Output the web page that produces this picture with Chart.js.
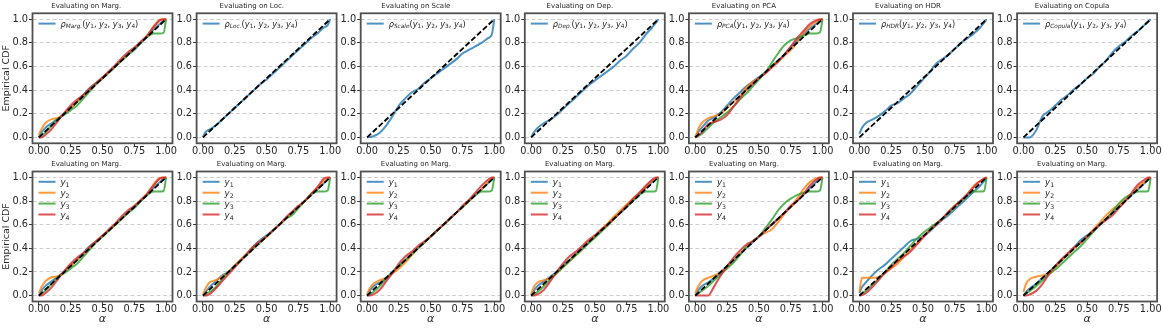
<!DOCTYPE html>
<html>
<head>
<meta charset="utf-8">
<script src="https://cdn.jsdelivr.net/npm/chart.js@4.4.1/dist/chart.umd.min.js"></script>
<style>
html, body { margin: 0; padding: 0; background: #fff; }
#fig { position: relative; width: 1163px; height: 329px; overflow: hidden; }
#fig canvas { position: absolute; }
</style>
</head>
<body>
<div id="fig"></div>
<script>
Chart.defaults.font.family = '"DejaVu Sans", sans-serif';
Chart.defaults.color = '#262626';

const alpha = [0, 0.02, 0.05, 0.1, 0.15, 0.2, 0.25, 0.3, 0.35, 0.4, 0.45, 0.5, 0.55, 0.6, 0.65, 0.7, 0.75, 0.8, 0.85, 0.9, 0.95, 0.98, 1];
const diagonal = [0, 1];
const xTicks = [0, 0.25, 0.5, 0.75, 1];
const yTicks = [0, 0.2, 0.4, 0.6, 0.8, 1];
const methods = ['Marg.', 'Loc.', 'Scale', 'Dep.', 'PCA', 'HDR', 'Copula'];
const seriesLabels = ['y1', 'y2', 'y3', 'y4'];

// trained + evaluated on marginals (top-left and bottom-left)
const margY1 = [0, 0.04, 0.08, 0.12, 0.16, 0.2, 0.25, 0.3, 0.36, 0.42, 0.46, 0.5, 0.55, 0.6, 0.65, 0.7, 0.74, 0.8, 0.85, 0.91, 0.96, 0.99, 1];
const margY2 = [0.02, 0.07, 0.12, 0.155, 0.165, 0.2, 0.25, 0.3, 0.35, 0.41, 0.46, 0.5, 0.55, 0.6, 0.65, 0.7, 0.75, 0.8, 0.86, 0.94, 0.995, 1, 1];
const margY3 = [0, 0.015, 0.04, 0.1, 0.16, 0.19, 0.23, 0.27, 0.33, 0.39, 0.45, 0.5, 0.55, 0.6, 0.65, 0.7, 0.75, 0.8, 0.85, 0.88, 0.88, 0.885, 1];
const margY4 = [0, 0, 0.02, 0.07, 0.14, 0.21, 0.27, 0.32, 0.36, 0.41, 0.46, 0.51, 0.56, 0.61, 0.67, 0.72, 0.76, 0.81, 0.86, 0.93, 0.99, 1, 1];

// top row, evaluated on own criterion
const locRho = [0, 0.045, 0.065, 0.1, 0.15, 0.2, 0.25, 0.3, 0.35, 0.4, 0.45, 0.49, 0.54, 0.59, 0.64, 0.69, 0.74, 0.79, 0.84, 0.88, 0.93, 0.95, 1];
const scaleRho = [0, 0.003, 0.01, 0.04, 0.1, 0.18, 0.27, 0.33, 0.38, 0.41, 0.46, 0.5, 0.54, 0.58, 0.62, 0.66, 0.71, 0.74, 0.77, 0.8, 0.84, 0.87, 1];
const depRho = [0, 0.04, 0.08, 0.12, 0.15, 0.19, 0.24, 0.29, 0.34, 0.39, 0.44, 0.48, 0.52, 0.56, 0.6, 0.65, 0.69, 0.75, 0.8, 0.87, 0.93, 0.97, 1];
const pcaY1 = [0, 0.04, 0.08, 0.14, 0.17, 0.21, 0.27, 0.33, 0.38, 0.43, 0.47, 0.51, 0.55, 0.6, 0.65, 0.7, 0.76, 0.82, 0.87, 0.92, 0.96, 0.99, 1];
const pcaY2 = [0, 0.06, 0.12, 0.16, 0.18, 0.2, 0.25, 0.3, 0.35, 0.42, 0.47, 0.5, 0.55, 0.6, 0.64, 0.69, 0.74, 0.8, 0.88, 0.94, 0.98, 0.995, 1];
const pcaY3 = [0, 0.01, 0.03, 0.08, 0.13, 0.17, 0.21, 0.26, 0.32, 0.37, 0.43, 0.49, 0.55, 0.63, 0.71, 0.78, 0.82, 0.84, 0.86, 0.88, 0.88, 0.89, 1];
const pcaY4 = [0, 0.015, 0.04, 0.11, 0.13, 0.15, 0.19, 0.26, 0.33, 0.4, 0.45, 0.5, 0.54, 0.59, 0.64, 0.7, 0.77, 0.84, 0.9, 0.96, 0.99, 1, 1];
const hdrRho = [0.03, 0.08, 0.12, 0.15, 0.18, 0.22, 0.27, 0.29, 0.33, 0.37, 0.43, 0.49, 0.55, 0.62, 0.66, 0.7, 0.75, 0.8, 0.84, 0.88, 0.93, 0.97, 1];
const copulaRho = [0, 0, 0, 0.06, 0.18, 0.22, 0.27, 0.32, 0.36, 0.41, 0.45, 0.5, 0.54, 0.6, 0.65, 0.72, 0.77, 0.81, 0.86, 0.9, 0.95, 0.98, 1];

// bottom row, evaluated on marginals
const locMargY1 = [0, 0.03, 0.07, 0.12, 0.17, 0.2, 0.25, 0.3, 0.36, 0.42, 0.47, 0.51, 0.55, 0.6, 0.65, 0.7, 0.75, 0.8, 0.85, 0.9, 0.95, 0.98, 1];
const locMargY2 = [0.01, 0.06, 0.11, 0.13, 0.16, 0.2, 0.26, 0.31, 0.36, 0.41, 0.46, 0.5, 0.55, 0.6, 0.65, 0.7, 0.75, 0.8, 0.86, 0.91, 0.97, 0.99, 1];
const locMargY3 = [0, 0.01, 0.03, 0.07, 0.14, 0.2, 0.25, 0.3, 0.35, 0.4, 0.45, 0.5, 0.55, 0.6, 0.65, 0.68, 0.74, 0.8, 0.86, 0.88, 0.88, 0.89, 1];
const locMargY4 = [0, 0, 0.01, 0.06, 0.12, 0.18, 0.24, 0.3, 0.36, 0.42, 0.46, 0.5, 0.55, 0.6, 0.66, 0.71, 0.76, 0.8, 0.86, 0.92, 0.99, 1, 1];

const scaleMargY1 = [0, 0.04, 0.08, 0.11, 0.15, 0.2, 0.25, 0.3, 0.35, 0.4, 0.45, 0.5, 0.55, 0.6, 0.65, 0.7, 0.75, 0.8, 0.85, 0.9, 0.95, 0.98, 1];
const scaleMargY2 = [0.01, 0.06, 0.1, 0.13, 0.15, 0.19, 0.23, 0.28, 0.34, 0.4, 0.45, 0.5, 0.55, 0.6, 0.65, 0.7, 0.75, 0.8, 0.85, 0.9, 0.96, 0.99, 1];
const scaleMargY3 = [0, 0.01, 0.03, 0.08, 0.14, 0.2, 0.25, 0.3, 0.35, 0.4, 0.45, 0.5, 0.55, 0.6, 0.65, 0.7, 0.75, 0.8, 0.85, 0.88, 0.88, 0.89, 1];
const scaleMargY4 = [0, 0, 0.01, 0.05, 0.12, 0.19, 0.27, 0.33, 0.37, 0.42, 0.46, 0.5, 0.55, 0.6, 0.65, 0.7, 0.76, 0.81, 0.87, 0.93, 0.98, 1, 1];

const depMargY1 = [0, 0.04, 0.08, 0.12, 0.16, 0.2, 0.25, 0.3, 0.35, 0.4, 0.45, 0.5, 0.55, 0.6, 0.65, 0.7, 0.75, 0.81, 0.86, 0.91, 0.96, 0.99, 1];
const depMargY2 = [0.01, 0.07, 0.11, 0.13, 0.15, 0.19, 0.24, 0.29, 0.34, 0.39, 0.45, 0.5, 0.56, 0.61, 0.67, 0.72, 0.77, 0.82, 0.87, 0.92, 0.97, 0.99, 1];
const depMargY3 = [0, 0.01, 0.03, 0.08, 0.14, 0.19, 0.24, 0.29, 0.34, 0.39, 0.44, 0.49, 0.54, 0.59, 0.65, 0.7, 0.75, 0.8, 0.85, 0.88, 0.88, 0.885, 1];
const depMargY4 = [0, 0, 0.01, 0.05, 0.12, 0.2, 0.27, 0.33, 0.37, 0.42, 0.47, 0.51, 0.56, 0.6, 0.65, 0.7, 0.76, 0.82, 0.87, 0.93, 0.98, 1, 1];

const pcaMargY1 = [0, 0.04, 0.08, 0.11, 0.15, 0.2, 0.25, 0.3, 0.35, 0.4, 0.45, 0.5, 0.55, 0.6, 0.65, 0.7, 0.75, 0.8, 0.85, 0.91, 0.96, 0.99, 1];
const pcaMargY2 = [0.02, 0.07, 0.12, 0.15, 0.17, 0.2, 0.24, 0.29, 0.35, 0.41, 0.46, 0.5, 0.53, 0.56, 0.62, 0.69, 0.75, 0.82, 0.9, 0.96, 0.99, 1, 1];
const pcaMargY3 = [0, 0.015, 0.04, 0.08, 0.13, 0.18, 0.23, 0.28, 0.34, 0.41, 0.46, 0.5, 0.57, 0.64, 0.72, 0.78, 0.82, 0.85, 0.87, 0.88, 0.88, 0.89, 1];
const pcaMargY4 = [0, 0, 0, 0, 0.08, 0.17, 0.25, 0.32, 0.38, 0.43, 0.46, 0.5, 0.55, 0.6, 0.65, 0.7, 0.76, 0.8, 0.86, 0.93, 0.98, 1, 1];

const hdrMargY1 = [0.02, 0.07, 0.11, 0.17, 0.22, 0.26, 0.31, 0.36, 0.41, 0.46, 0.48, 0.5, 0.54, 0.59, 0.64, 0.68, 0.73, 0.78, 0.83, 0.88, 0.93, 0.97, 1];
const hdrMargY2 = [0.03, 0.15, 0.15, 0.15, 0.155, 0.19, 0.23, 0.27, 0.33, 0.39, 0.44, 0.5, 0.55, 0.6, 0.65, 0.7, 0.75, 0.8, 0.86, 0.93, 0.97, 0.99, 1];
const hdrMargY3 = [0, 0.015, 0.04, 0.09, 0.14, 0.2, 0.26, 0.31, 0.36, 0.42, 0.48, 0.53, 0.57, 0.61, 0.65, 0.7, 0.76, 0.8, 0.85, 0.88, 0.88, 0.885, 1];
const hdrMargY4 = [0, 0.005, 0.02, 0.07, 0.13, 0.19, 0.24, 0.29, 0.33, 0.37, 0.43, 0.49, 0.55, 0.6, 0.65, 0.71, 0.76, 0.81, 0.86, 0.92, 0.97, 0.99, 1];

const copulaMargY1 = [0, 0.03, 0.06, 0.1, 0.15, 0.2, 0.25, 0.3, 0.35, 0.41, 0.47, 0.51, 0.55, 0.6, 0.65, 0.7, 0.75, 0.8, 0.85, 0.9, 0.95, 0.98, 1];
const copulaMargY2 = [0.03, 0.1, 0.14, 0.16, 0.17, 0.19, 0.24, 0.3, 0.35, 0.4, 0.45, 0.5, 0.56, 0.62, 0.68, 0.73, 0.77, 0.81, 0.86, 0.92, 0.96, 0.99, 1];
const copulaMargY3 = [0, 0.015, 0.04, 0.08, 0.13, 0.18, 0.22, 0.27, 0.32, 0.37, 0.42, 0.48, 0.54, 0.6, 0.65, 0.71, 0.78, 0.83, 0.86, 0.88, 0.88, 0.885, 1];
const copulaMargY4 = [0, 0, 0.01, 0.04, 0.1, 0.18, 0.25, 0.31, 0.36, 0.41, 0.45, 0.5, 0.55, 0.6, 0.64, 0.68, 0.74, 0.8, 0.87, 0.94, 0.98, 1, 1];

const topSeries = [
    [margY1, margY2, margY3, margY4], [locRho], [scaleRho], [depRho],
    [pcaY1, pcaY2, pcaY3, pcaY4], [hdrRho], [copulaRho],
];
const bottomSeries = [
    [margY1, margY2, margY3, margY4],
    [locMargY1, locMargY2, locMargY3, locMargY4],
    [scaleMargY1, scaleMargY2, scaleMargY3, scaleMargY4],
    [depMargY1, depMargY2, depMargY3, depMargY4],
    [pcaMargY1, pcaMargY2, pcaMargY3, pcaMargY4],
    [hdrMargY1, hdrMargY2, hdrMargY3, hdrMargY4],
    [copulaMargY1, copulaMargY2, copulaMargY3, copulaMargY4],
];

const COLORS = ['rgba(31,119,180,0.8)', 'rgba(255,127,14,0.8)', 'rgba(44,160,44,0.8)', 'rgba(214,39,40,0.8)'];
const PLOT_W = 140, PLOT_H = 130;
const TITLE_SIZE = 7;
const TICK_SIZE = 9.8;
const ROWS = [
    { top: 0, height: 158, padTop: 2.2, padBottom: 2.7 },
    { top: 158, height: 171, padTop: 2.4, padBottom: 2.7 },
];

function rhoParts(name) {
    const parts = [['ρ', 8.2, 'italic', 0], [name, 5.8, 'italic', 1.8], ['(', 8.2, 'normal', 0]];
    seriesLabels.forEach((s, i) => {
        parts.push(['y', 8.2, 'italic', 0], [s.slice(1), 5.8, 'normal', 1.8], [i < 3 ? ', ' : ')', 8.2, 'normal', 0]);
    });
    return parts;
}

function overlay(entries) {
    return {
        id: 'overlay',
        afterDraw(chart) {
            const { ctx, chartArea: a } = chart;
            ctx.save();
            ctx.strokeStyle = '#505050';
            ctx.lineWidth = 1.8;
            ctx.strokeRect(a.left, a.top, a.right - a.left, a.bottom - a.top);
            entries.forEach((e, i) => {
                const y = a.top + 10.3 + 10.9 * i;
                ctx.strokeStyle = e.color;
                ctx.lineWidth = 2;
                ctx.beginPath();
                ctx.moveTo(a.left + 6, y);
                ctx.lineTo(a.left + 23, y);
                ctx.stroke();
                ctx.fillStyle = '#262626';
                ctx.textBaseline = 'alphabetic';
                let x = a.left + 28;
                e.parts.forEach(([text, size, style, dy]) => {
                    ctx.font = `${style} ${size}px "DejaVu Sans"`;
                    ctx.fillText(text, x, y + 3 + dy);
                    x += ctx.measureText(text).width;
                });
            });
            ctx.restore();
        },
    };
}

function makePanel(row, col, title, series, legend) {
    const R = ROWS[row];
    const plotLeft = 32.5 + 164.1 * col;
    const left = col === 0 ? 0 : Math.round(plotLeft - 30);
    const yw = plotLeft - left;
    const width = Math.round(yw + PLOT_W + 8);
    const xHeight = R.height - (TITLE_SIZE * 1.2 + R.padTop + R.padBottom) - PLOT_H;

    const canvas = document.createElement('canvas');
    canvas.width = width;
    canvas.height = R.height;
    canvas.style.left = left + 'px';
    canvas.style.top = R.top + 'px';
    document.getElementById('fig').appendChild(canvas);

    const datasets = [{
        data: diagonal.map(v => ({ x: v, y: v })),
        borderColor: '#000',
        borderWidth: 1.8,
        borderDash: [5.5, 2.4],
        pointRadius: 0,
        order: 0,
    }];
    series.forEach((vals, i) => {
        datasets.push({
            data: alpha.map((a, j) => ({ x: a, y: vals[j] })),
            borderColor: COLORS[i],
            borderWidth: 2,
            pointRadius: 0,
            cubicInterpolationMode: 'monotone',
            order: 4 - i,
        });
    });

    return new Chart(canvas, {
        type: 'line',
        data: { datasets },
        options: {
            responsive: false,
            animation: false,
            devicePixelRatio: 1,
            layout: { padding: { left: 0, top: 0, bottom: 0, right: width - yw - PLOT_W } },
            plugins: {
                legend: { display: false },
                tooltip: { enabled: false },
                title: {
                    display: true,
                    text: title,
                    color: '#262626',
                    font: { size: TITLE_SIZE, weight: 'normal' },
                    padding: { top: R.padTop, bottom: R.padBottom },
                },
            },
            scales: {
                x: {
                    type: 'linear',
                    min: -0.05,
                    max: 1.05,
                    afterBuildTicks: s => { s.ticks = xTicks.map(v => ({ value: v })); },
                    afterFit: s => { s.height = xHeight; },
                    grid: { drawOnChartArea: false, tickLength: 3.5, tickColor: '#333', tickWidth: 1 },
                    border: { display: false },
                    ticks: {
                        padding: 0, maxRotation: 0, autoSkip: false, color: '#262626',
                        font: { size: TICK_SIZE, lineHeight: 1 },
                        callback: v => v.toFixed(2),
                    },
                    title: row === 1
                        ? { display: true, text: 'α', color: '#262626', font: { size: 11, style: 'italic' }, padding: { top: 0, bottom: 3 } }
                        : { display: false },
                },
                y: {
                    type: 'linear',
                    min: -0.05,
                    max: 1.05,
                    afterBuildTicks: s => { s.ticks = yTicks.map(v => ({ value: v })); },
                    afterFit: s => { s.width = yw; },
                    grid: { color: '#cfcfcf', lineWidth: 1, tickLength: 3.5, tickColor: '#333', tickWidth: 1 },
                    border: { display: false, dash: [4, 2.5] },
                    ticks: { padding: 1, color: '#262626', font: { size: TICK_SIZE }, callback: v => v.toFixed(1) },
                    title: col === 0
                        ? { display: true, text: 'Empirical CDF', color: '#262626', font: { size: 9.5 }, padding: { top: 0.8, bottom: 0 } }
                        : { display: false },
                },
            },
        },
        plugins: [overlay(legend)],
    });
}

methods.forEach((m, c) => {
    makePanel(0, c, 'Evaluating on ' + m, topSeries[c], [{ color: COLORS[0], parts: rhoParts(m) }]);
    makePanel(1, c, 'Evaluating on Marg.', bottomSeries[c], seriesLabels.map((s, i) => ({
        color: COLORS[i],
        parts: [['y', 8.6, 'italic', 0], [s.slice(1), 6.2, 'normal', 2]],
    })));
});
</script>
</body>
</html>
